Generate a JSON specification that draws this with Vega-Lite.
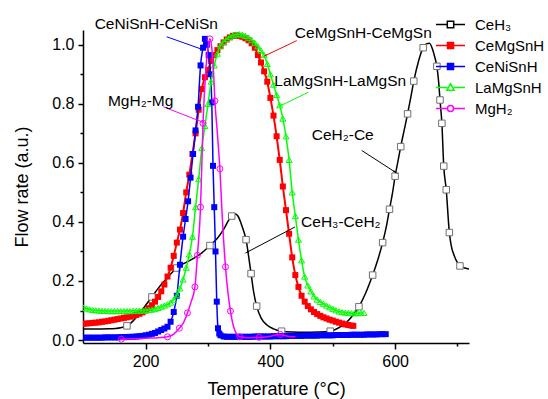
{
  "$schema": "https://vega.github.io/schema/vega-lite/v6.json",
  "width": 386,
  "height": 313,
  "autosize": {"type": "none"},
  "padding": {"left": 83, "top": 30, "right": 79, "bottom": 56},
  "datasets": {
    "curves": [
      {"series":"CeH₃","T":100,"v":0.037},{"series":"CeH₃","T":120,"v":0.037},{"series":"CeH₃","T":140,"v":0.038},{"series":"CeH₃","T":160,"v":0.042},{"series":"CeH₃","T":170,"v":0.048},{"series":"CeH₃","T":180,"v":0.065},{"series":"CeH₃","T":190,"v":0.09},{"series":"CeH₃","T":200,"v":0.118},{"series":"CeH₃","T":210,"v":0.146},{"series":"CeH₃","T":220,"v":0.175},{"series":"CeH₃","T":230,"v":0.2},{"series":"CeH₃","T":240,"v":0.224},{"series":"CeH₃","T":250,"v":0.244},{"series":"CeH₃","T":260,"v":0.258},{"series":"CeH₃","T":271,"v":0.27},{"series":"CeH₃","T":287,"v":0.29},{"series":"CeH₃","T":303,"v":0.32},{"series":"CeH₃","T":315,"v":0.345},{"series":"CeH₃","T":325,"v":0.375},{"series":"CeH₃","T":333,"v":0.405},{"series":"CeH₃","T":338,"v":0.42},{"series":"CeH₃","T":343,"v":0.428},{"series":"CeH₃","T":348,"v":0.42},{"series":"CeH₃","T":353,"v":0.395},{"series":"CeH₃","T":357,"v":0.37},{"series":"CeH₃","T":361,"v":0.34},{"series":"CeH₃","T":365,"v":0.285},{"series":"CeH₃","T":369,"v":0.225},{"series":"CeH₃","T":373,"v":0.165},{"series":"CeH₃","T":378,"v":0.115},{"series":"CeH₃","T":385,"v":0.075},{"series":"CeH₃","T":395,"v":0.05},{"series":"CeH₃","T":405,"v":0.038},{"series":"CeH₃","T":418,"v":0.03},{"series":"CeH₃","T":435,"v":0.027},{"series":"CeH₃","T":455,"v":0.026},{"series":"CeH₃","T":475,"v":0.027},{"series":"CeH₃","T":496,"v":0.03},{"series":"CeH₃","T":510,"v":0.042},{"series":"CeH₃","T":522,"v":0.06},{"series":"CeH₃","T":532,"v":0.083},{"series":"CeH₃","T":542,"v":0.113},{"series":"CeH₃","T":553,"v":0.16},{"series":"CeH₃","T":564,"v":0.22},{"series":"CeH₃","T":572,"v":0.27},{"series":"CeH₃","T":580,"v":0.33},{"series":"CeH₃","T":586,"v":0.385},{"series":"CeH₃","T":591,"v":0.443},{"series":"CeH₃","T":596,"v":0.5},{"series":"CeH₃","T":600,"v":0.555},{"series":"CeH₃","T":605,"v":0.61},{"series":"CeH₃","T":609,"v":0.655},{"series":"CeH₃","T":615,"v":0.715},{"series":"CeH₃","T":620,"v":0.766},{"series":"CeH₃","T":625,"v":0.82},{"series":"CeH₃","T":630,"v":0.877},{"series":"CeH₃","T":637,"v":0.94},{"series":"CeH₃","T":645,"v":0.99},{"series":"CeH₃","T":650,"v":1.003},{"series":"CeH₃","T":655,"v":1.005},{"series":"CeH₃","T":660,"v":0.985},{"series":"CeH₃","T":664,"v":0.955},{"series":"CeH₃","T":667,"v":0.927},{"series":"CeH₃","T":670,"v":0.87},{"series":"CeH₃","T":672,"v":0.813},{"series":"CeH₃","T":675,"v":0.734},{"series":"CeH₃","T":678,"v":0.589},{"series":"CeH₃","T":682,"v":0.509},{"series":"CeH₃","T":687,"v":0.364},{"series":"CeH₃","T":690,"v":0.32},{"series":"CeH₃","T":695,"v":0.285},{"series":"CeH₃","T":700,"v":0.262},{"series":"CeH₃","T":704,"v":0.251},{"series":"CeH₃","T":712,"v":0.244},{"series":"CeH₃","T":720,"v":0.24},

      {"series":"CeMgSnH","T":100,"v":0.055},{"series":"CeMgSnH","T":105,"v":0.056},{"series":"CeMgSnH","T":110,"v":0.057},{"series":"CeMgSnH","T":115,"v":0.058},{"series":"CeMgSnH","T":120,"v":0.059},{"series":"CeMgSnH","T":125,"v":0.06},{"series":"CeMgSnH","T":130,"v":0.062},{"series":"CeMgSnH","T":135,"v":0.063},{"series":"CeMgSnH","T":140,"v":0.065},{"series":"CeMgSnH","T":145,"v":0.067},{"series":"CeMgSnH","T":150,"v":0.069},{"series":"CeMgSnH","T":155,"v":0.071},{"series":"CeMgSnH","T":160,"v":0.073},{"series":"CeMgSnH","T":165,"v":0.075},{"series":"CeMgSnH","T":170,"v":0.077},{"series":"CeMgSnH","T":175,"v":0.079},{"series":"CeMgSnH","T":180,"v":0.082},{"series":"CeMgSnH","T":185,"v":0.085},{"series":"CeMgSnH","T":190,"v":0.089},{"series":"CeMgSnH","T":195,"v":0.094},{"series":"CeMgSnH","T":200,"v":0.1},{"series":"CeMgSnH","T":205,"v":0.108},{"series":"CeMgSnH","T":210,"v":0.118},{"series":"CeMgSnH","T":215,"v":0.13},{"series":"CeMgSnH","T":220,"v":0.146},{"series":"CeMgSnH","T":225,"v":0.165},{"series":"CeMgSnH","T":230,"v":0.188},{"series":"CeMgSnH","T":235,"v":0.215},{"series":"CeMgSnH","T":240,"v":0.245},{"series":"CeMgSnH","T":245,"v":0.285},{"series":"CeMgSnH","T":250,"v":0.33},{"series":"CeMgSnH","T":255,"v":0.374},{"series":"CeMgSnH","T":260,"v":0.43},{"series":"CeMgSnH","T":265,"v":0.5},{"series":"CeMgSnH","T":270,"v":0.56},{"series":"CeMgSnH","T":275,"v":0.63},{"series":"CeMgSnH","T":280,"v":0.7},{"series":"CeMgSnH","T":285,"v":0.78},{"series":"CeMgSnH","T":290,"v":0.85},{"series":"CeMgSnH","T":295,"v":0.89},{"series":"CeMgSnH","T":300,"v":0.915},{"series":"CeMgSnH","T":305,"v":0.945},{"series":"CeMgSnH","T":310,"v":0.965},{"series":"CeMgSnH","T":315,"v":0.982},{"series":"CeMgSnH","T":320,"v":0.995},{"series":"CeMgSnH","T":325,"v":1.008},{"series":"CeMgSnH","T":330,"v":1.018},{"series":"CeMgSnH","T":335,"v":1.025},{"series":"CeMgSnH","T":340,"v":1.03},{"series":"CeMgSnH","T":345,"v":1.032},{"series":"CeMgSnH","T":350,"v":1.03},{"series":"CeMgSnH","T":355,"v":1.027},{"series":"CeMgSnH","T":360,"v":1.022},{"series":"CeMgSnH","T":365,"v":1.015},{"series":"CeMgSnH","T":370,"v":1.005},{"series":"CeMgSnH","T":375,"v":0.99},{"series":"CeMgSnH","T":380,"v":0.965},{"series":"CeMgSnH","T":385,"v":0.94},{"series":"CeMgSnH","T":390,"v":0.91},{"series":"CeMgSnH","T":395,"v":0.875},{"series":"CeMgSnH","T":400,"v":0.82},{"series":"CeMgSnH","T":405,"v":0.76},{"series":"CeMgSnH","T":410,"v":0.69},{"series":"CeMgSnH","T":415,"v":0.61},{"series":"CeMgSnH","T":420,"v":0.52},{"series":"CeMgSnH","T":425,"v":0.44},{"series":"CeMgSnH","T":430,"v":0.36},{"series":"CeMgSnH","T":435,"v":0.28},{"series":"CeMgSnH","T":440,"v":0.22},{"series":"CeMgSnH","T":445,"v":0.18},{"series":"CeMgSnH","T":450,"v":0.15},{"series":"CeMgSnH","T":455,"v":0.13},{"series":"CeMgSnH","T":460,"v":0.115},{"series":"CeMgSnH","T":465,"v":0.104},{"series":"CeMgSnH","T":470,"v":0.095},{"series":"CeMgSnH","T":475,"v":0.088},{"series":"CeMgSnH","T":480,"v":0.082},{"series":"CeMgSnH","T":485,"v":0.077},{"series":"CeMgSnH","T":490,"v":0.073},{"series":"CeMgSnH","T":495,"v":0.069},{"series":"CeMgSnH","T":500,"v":0.066},{"series":"CeMgSnH","T":505,"v":0.062},{"series":"CeMgSnH","T":510,"v":0.059},{"series":"CeMgSnH","T":515,"v":0.056},{"series":"CeMgSnH","T":520,"v":0.053},{"series":"CeMgSnH","T":525,"v":0.051},{"series":"CeMgSnH","T":530,"v":0.049},{"series":"CeMgSnH","T":533,"v":0.048},

      {"series":"CeNiSnH","T":100,"v":0.008},{"series":"CeNiSnH","T":105,"v":0.008},{"series":"CeNiSnH","T":110,"v":0.008},{"series":"CeNiSnH","T":115,"v":0.008},{"series":"CeNiSnH","T":120,"v":0.008},{"series":"CeNiSnH","T":125,"v":0.008},{"series":"CeNiSnH","T":130,"v":0.008},{"series":"CeNiSnH","T":135,"v":0.009},{"series":"CeNiSnH","T":140,"v":0.009},{"series":"CeNiSnH","T":145,"v":0.009},{"series":"CeNiSnH","T":150,"v":0.009},{"series":"CeNiSnH","T":155,"v":0.009},{"series":"CeNiSnH","T":160,"v":0.01},{"series":"CeNiSnH","T":165,"v":0.01},{"series":"CeNiSnH","T":170,"v":0.01},{"series":"CeNiSnH","T":175,"v":0.011},{"series":"CeNiSnH","T":180,"v":0.011},{"series":"CeNiSnH","T":185,"v":0.012},{"series":"CeNiSnH","T":190,"v":0.013},{"series":"CeNiSnH","T":195,"v":0.014},{"series":"CeNiSnH","T":200,"v":0.016},{"series":"CeNiSnH","T":205,"v":0.018},{"series":"CeNiSnH","T":210,"v":0.021},{"series":"CeNiSnH","T":215,"v":0.024},{"series":"CeNiSnH","T":220,"v":0.029},{"series":"CeNiSnH","T":225,"v":0.034},{"series":"CeNiSnH","T":230,"v":0.039},{"series":"CeNiSnH","T":235,"v":0.045},{"series":"CeNiSnH","T":240,"v":0.062},{"series":"CeNiSnH","T":245,"v":0.095},{"series":"CeNiSnH","T":250,"v":0.15},{"series":"CeNiSnH","T":255,"v":0.255},{"series":"CeNiSnH","T":260,"v":0.35},{"series":"CeNiSnH","T":264,"v":0.41},{"series":"CeNiSnH","T":268,"v":0.47},{"series":"CeNiSnH","T":272,"v":0.55},{"series":"CeNiSnH","T":276,"v":0.63},{"series":"CeNiSnH","T":280,"v":0.71},{"series":"CeNiSnH","T":284,"v":0.79},{"series":"CeNiSnH","T":288,"v":0.93},{"series":"CeNiSnH","T":292,"v":0.99},{"series":"CeNiSnH","T":295,"v":1.02},{"series":"CeNiSnH","T":298,"v":1.0},{"series":"CeNiSnH","T":301,"v":0.965},{"series":"CeNiSnH","T":304,"v":0.9},{"series":"CeNiSnH","T":306,"v":0.805},{"series":"CeNiSnH","T":308,"v":0.59},{"series":"CeNiSnH","T":310,"v":0.45},{"series":"CeNiSnH","T":312,"v":0.3},{"series":"CeNiSnH","T":314,"v":0.13},{"series":"CeNiSnH","T":316,"v":0.04},{"series":"CeNiSnH","T":318,"v":0.022},{"series":"CeNiSnH","T":320,"v":0.016},{"series":"CeNiSnH","T":325,"v":0.012},{"series":"CeNiSnH","T":330,"v":0.011},{"series":"CeNiSnH","T":335,"v":0.011},{"series":"CeNiSnH","T":340,"v":0.011},{"series":"CeNiSnH","T":345,"v":0.011},{"series":"CeNiSnH","T":350,"v":0.011},{"series":"CeNiSnH","T":355,"v":0.011},{"series":"CeNiSnH","T":360,"v":0.011},{"series":"CeNiSnH","T":365,"v":0.011},{"series":"CeNiSnH","T":370,"v":0.011},{"series":"CeNiSnH","T":375,"v":0.012},{"series":"CeNiSnH","T":380,"v":0.012},{"series":"CeNiSnH","T":385,"v":0.012},{"series":"CeNiSnH","T":390,"v":0.012},{"series":"CeNiSnH","T":395,"v":0.012},{"series":"CeNiSnH","T":400,"v":0.012},{"series":"CeNiSnH","T":405,"v":0.013},{"series":"CeNiSnH","T":410,"v":0.013},{"series":"CeNiSnH","T":415,"v":0.013},{"series":"CeNiSnH","T":420,"v":0.013},{"series":"CeNiSnH","T":425,"v":0.013},{"series":"CeNiSnH","T":430,"v":0.014},{"series":"CeNiSnH","T":435,"v":0.014},{"series":"CeNiSnH","T":440,"v":0.014},{"series":"CeNiSnH","T":445,"v":0.014},{"series":"CeNiSnH","T":450,"v":0.014},{"series":"CeNiSnH","T":455,"v":0.015},{"series":"CeNiSnH","T":460,"v":0.015},{"series":"CeNiSnH","T":465,"v":0.015},{"series":"CeNiSnH","T":470,"v":0.015},{"series":"CeNiSnH","T":475,"v":0.015},{"series":"CeNiSnH","T":480,"v":0.016},{"series":"CeNiSnH","T":485,"v":0.016},{"series":"CeNiSnH","T":490,"v":0.016},{"series":"CeNiSnH","T":495,"v":0.016},{"series":"CeNiSnH","T":500,"v":0.016},{"series":"CeNiSnH","T":505,"v":0.017},{"series":"CeNiSnH","T":510,"v":0.017},{"series":"CeNiSnH","T":515,"v":0.017},{"series":"CeNiSnH","T":520,"v":0.017},{"series":"CeNiSnH","T":525,"v":0.017},{"series":"CeNiSnH","T":530,"v":0.018},{"series":"CeNiSnH","T":535,"v":0.018},{"series":"CeNiSnH","T":540,"v":0.018},{"series":"CeNiSnH","T":545,"v":0.018},{"series":"CeNiSnH","T":550,"v":0.018},{"series":"CeNiSnH","T":555,"v":0.019},{"series":"CeNiSnH","T":560,"v":0.019},{"series":"CeNiSnH","T":565,"v":0.019},{"series":"CeNiSnH","T":570,"v":0.019},{"series":"CeNiSnH","T":575,"v":0.02},{"series":"CeNiSnH","T":580,"v":0.02},{"series":"CeNiSnH","T":585,"v":0.02},

      {"series":"LaMgSnH","T":100,"v":0.11},{"series":"LaMgSnH","T":105,"v":0.107},{"series":"LaMgSnH","T":110,"v":0.104},{"series":"LaMgSnH","T":115,"v":0.102},{"series":"LaMgSnH","T":120,"v":0.101},{"series":"LaMgSnH","T":125,"v":0.1},{"series":"LaMgSnH","T":130,"v":0.099},{"series":"LaMgSnH","T":135,"v":0.099},{"series":"LaMgSnH","T":140,"v":0.098},{"series":"LaMgSnH","T":145,"v":0.098},{"series":"LaMgSnH","T":150,"v":0.098},{"series":"LaMgSnH","T":155,"v":0.098},{"series":"LaMgSnH","T":160,"v":0.098},{"series":"LaMgSnH","T":165,"v":0.098},{"series":"LaMgSnH","T":170,"v":0.098},{"series":"LaMgSnH","T":175,"v":0.098},{"series":"LaMgSnH","T":180,"v":0.099},{"series":"LaMgSnH","T":185,"v":0.099},{"series":"LaMgSnH","T":190,"v":0.1},{"series":"LaMgSnH","T":195,"v":0.1},{"series":"LaMgSnH","T":200,"v":0.101},{"series":"LaMgSnH","T":205,"v":0.102},{"series":"LaMgSnH","T":210,"v":0.103},{"series":"LaMgSnH","T":215,"v":0.106},{"series":"LaMgSnH","T":220,"v":0.109},{"series":"LaMgSnH","T":225,"v":0.113},{"series":"LaMgSnH","T":230,"v":0.117},{"series":"LaMgSnH","T":235,"v":0.121},{"series":"LaMgSnH","T":240,"v":0.127},{"series":"LaMgSnH","T":245,"v":0.137},{"series":"LaMgSnH","T":250,"v":0.152},{"series":"LaMgSnH","T":255,"v":0.175},{"series":"LaMgSnH","T":260,"v":0.205},{"series":"LaMgSnH","T":265,"v":0.245},{"series":"LaMgSnH","T":270,"v":0.29},{"series":"LaMgSnH","T":275,"v":0.35},{"series":"LaMgSnH","T":280,"v":0.45},{"series":"LaMgSnH","T":285,"v":0.545},{"series":"LaMgSnH","T":290,"v":0.65},{"series":"LaMgSnH","T":295,"v":0.725},{"series":"LaMgSnH","T":300,"v":0.8},{"series":"LaMgSnH","T":305,"v":0.875},{"series":"LaMgSnH","T":310,"v":0.93},{"series":"LaMgSnH","T":315,"v":0.97},{"series":"LaMgSnH","T":320,"v":0.997},{"series":"LaMgSnH","T":325,"v":1.01},{"series":"LaMgSnH","T":330,"v":1.02},{"series":"LaMgSnH","T":335,"v":1.027},{"series":"LaMgSnH","T":340,"v":1.032},{"series":"LaMgSnH","T":345,"v":1.035},{"series":"LaMgSnH","T":350,"v":1.036},{"series":"LaMgSnH","T":355,"v":1.034},{"series":"LaMgSnH","T":360,"v":1.03},{"series":"LaMgSnH","T":365,"v":1.024},{"series":"LaMgSnH","T":370,"v":1.016},{"series":"LaMgSnH","T":375,"v":1.006},{"series":"LaMgSnH","T":380,"v":0.995},{"series":"LaMgSnH","T":385,"v":0.98},{"series":"LaMgSnH","T":390,"v":0.965},{"series":"LaMgSnH","T":395,"v":0.935},{"series":"LaMgSnH","T":400,"v":0.9},{"series":"LaMgSnH","T":405,"v":0.865},{"series":"LaMgSnH","T":410,"v":0.83},{"series":"LaMgSnH","T":415,"v":0.795},{"series":"LaMgSnH","T":420,"v":0.75},{"series":"LaMgSnH","T":425,"v":0.69},{"series":"LaMgSnH","T":430,"v":0.61},{"series":"LaMgSnH","T":435,"v":0.5},{"series":"LaMgSnH","T":440,"v":0.42},{"series":"LaMgSnH","T":445,"v":0.34},{"series":"LaMgSnH","T":450,"v":0.27},{"series":"LaMgSnH","T":455,"v":0.215},{"series":"LaMgSnH","T":460,"v":0.185},{"series":"LaMgSnH","T":465,"v":0.165},{"series":"LaMgSnH","T":470,"v":0.148},{"series":"LaMgSnH","T":475,"v":0.137},{"series":"LaMgSnH","T":480,"v":0.129},{"series":"LaMgSnH","T":485,"v":0.123},{"series":"LaMgSnH","T":490,"v":0.117},{"series":"LaMgSnH","T":495,"v":0.111},{"series":"LaMgSnH","T":500,"v":0.106},{"series":"LaMgSnH","T":505,"v":0.101},{"series":"LaMgSnH","T":510,"v":0.097},{"series":"LaMgSnH","T":515,"v":0.095},{"series":"LaMgSnH","T":520,"v":0.093},{"series":"LaMgSnH","T":525,"v":0.092},{"series":"LaMgSnH","T":530,"v":0.091},{"series":"LaMgSnH","T":535,"v":0.091},{"series":"LaMgSnH","T":540,"v":0.091},{"series":"LaMgSnH","T":545,"v":0.092},{"series":"LaMgSnH","T":550,"v":0.092},

      {"series":"MgH₂","T":159,"v":0.003},{"series":"MgH₂","T":180,"v":0.004},{"series":"MgH₂","T":200,"v":0.006},{"series":"MgH₂","T":220,"v":0.008},{"series":"MgH₂","T":235,"v":0.011},{"series":"MgH₂","T":245,"v":0.02},{"series":"MgH₂","T":254,"v":0.04},{"series":"MgH₂","T":261,"v":0.06},{"series":"MgH₂","T":267,"v":0.092},{"series":"MgH₂","T":273,"v":0.13},{"series":"MgH₂","T":279,"v":0.18},{"series":"MgH₂","T":283,"v":0.287},{"series":"MgH₂","T":288,"v":0.45},{"series":"MgH₂","T":292,"v":0.734},{"series":"MgH₂","T":296,"v":0.9},{"series":"MgH₂","T":300,"v":0.99},{"series":"MgH₂","T":303,"v":1.02},{"series":"MgH₂","T":306,"v":0.99},{"series":"MgH₂","T":309,"v":0.9},{"series":"MgH₂","T":311,"v":0.81},{"series":"MgH₂","T":315,"v":0.7},{"series":"MgH₂","T":319,"v":0.58},{"series":"MgH₂","T":323,"v":0.41},{"series":"MgH₂","T":328,"v":0.248},{"series":"MgH₂","T":332,"v":0.16},{"series":"MgH₂","T":336,"v":0.098},{"series":"MgH₂","T":341,"v":0.045},{"series":"MgH₂","T":346,"v":0.02},{"series":"MgH₂","T":351,"v":0.011},{"series":"MgH₂","T":365,"v":0.008},{"series":"MgH₂","T":382,"v":0.009},{"series":"MgH₂","T":400,"v":0.013},{"series":"MgH₂","T":410,"v":0.018},{"series":"MgH₂","T":416,"v":0.019},{"series":"MgH₂","T":422,"v":0.016},{"series":"MgH₂","T":430,"v":0.012},{"series":"MgH₂","T":440,"v":0.011}
    ],
    "markers": [
      {"series":"CeH₃","T":170,"v":0.048},{"series":"CeH₃","T":210,"v":0.146},{"series":"CeH₃","T":250,"v":0.244},{"series":"CeH₃","T":303,"v":0.32},{"series":"CeH₃","T":338,"v":0.42},{"series":"CeH₃","T":361,"v":0.34},{"series":"CeH₃","T":369,"v":0.225},{"series":"CeH₃","T":378,"v":0.115},{"series":"CeH₃","T":418,"v":0.03},{"series":"CeH₃","T":496,"v":0.03},{"series":"CeH₃","T":542,"v":0.113},{"series":"CeH₃","T":564,"v":0.22},{"series":"CeH₃","T":580,"v":0.33},{"series":"CeH₃","T":591,"v":0.443},{"series":"CeH₃","T":600,"v":0.555},{"series":"CeH₃","T":609,"v":0.655},{"series":"CeH₃","T":620,"v":0.766},{"series":"CeH₃","T":630,"v":0.877},{"series":"CeH₃","T":645,"v":0.99},{"series":"CeH₃","T":667,"v":0.927},{"series":"CeH₃","T":672,"v":0.813},{"series":"CeH₃","T":675,"v":0.734},{"series":"CeH₃","T":678,"v":0.589},{"series":"CeH₃","T":682,"v":0.509},{"series":"CeH₃","T":687,"v":0.364},{"series":"CeH₃","T":704,"v":0.251},
      {"series":"MgH₂","T":161,"v":0.003},{"series":"MgH₂","T":235,"v":0.011},{"series":"MgH₂","T":254,"v":0.04},{"series":"MgH₂","T":267,"v":0.092},{"series":"MgH₂","T":279,"v":0.18},{"series":"MgH₂","T":283,"v":0.287},{"series":"MgH₂","T":288,"v":0.45},{"series":"MgH₂","T":292,"v":0.734},{"series":"MgH₂","T":303,"v":1.02},{"series":"MgH₂","T":311,"v":0.81},{"series":"MgH₂","T":319,"v":0.58},{"series":"MgH₂","T":328,"v":0.248},{"series":"MgH₂","T":336,"v":0.098},{"series":"MgH₂","T":351,"v":0.011},{"series":"MgH₂","T":382,"v":0.009},{"series":"MgH₂","T":416,"v":0.019}
    ],
    "notes": [
      {"label":"CeNiSnH-CeNiSn","tx":217,"ty":1.07,"T":233.7,"v":1.027,"T2":289.9,"v2":0.985},
      {"label":"MgH₂-Mg","tx":192,"ty":0.81,"T":228.3,"v":0.79,"T2":292.5,"v2":0.737},
      {"label":"CeMgSnH-CeMgSn","tx":549,"ty":1.04,"T":442.3,"v":1.014,"T2":391.4,"v2":0.963},
      {"label":"LaMgSnH-LaMgSn","tx":512,"ty":0.878,"T":460.9,"v":0.839,"T2":416.6,"v2":0.794},
      {"label":"CeH₂-Ce","tx":516,"ty":0.693,"T":546.5,"v":0.642,"T2":599.9,"v2":0.569},
      {"label":"CeH₃-CeH₂","tx":513,"ty":0.4,"T":439.5,"v":0.383,"T2":363.0,"v2":0.298}
    ]
  },
  "layer": [
    {
      "layer": [
        {
          "data": {"name": "curves"},
          "transform": [{"filter": "datum.series === 'CeH₃'"}],
          "mark": {"type": "line", "color": "black", "strokeWidth": 1.5, "interpolate": "monotone", "clip": true},
          "encoding": {
            "x": {"field": "T", "type": "quantitative", "scale": {"domain": [99.5, 718.5], "nice": false, "zero": false},
                  "axis": {"values": [200, 400, 600], "tickSize": 6, "labelPadding": 4, "title": "Temperature (°C)", "titlePadding": 11}},
            "y": {"field": "v", "type": "quantitative", "scale": {"domain": [-0.01, 1.05], "nice": false, "zero": false},
                  "axis": {"values": [0, 0.2, 0.4, 0.6, 0.8, 1.0], "format": ".1f", "tickSize": 5, "labelPadding": 4, "title": "Flow rate (a.u.)", "titlePadding": 20}}
          }
        },
        {
          "data": {"name": "markers"},
          "transform": [{"filter": "datum.series === 'CeH₃'"}],
          "mark": {"type": "point", "shape": "square", "size": 42, "filled": true, "fill": "white", "stroke": "#707070", "strokeWidth": 1, "opacity": 1},
          "encoding": {"x": {"field": "T", "type": "quantitative"}, "y": {"field": "v", "type": "quantitative"}}
        },
        {
          "data": {"name": "curves"},
          "transform": [{"filter": "datum.series === 'CeMgSnH'"}],
          "mark": {"type": "line", "color": "#ff0000", "strokeWidth": 2, "interpolate": "monotone", "clip": true,
                   "point": {"shape": "square", "size": 36, "filled": true, "color": "#ff0000", "opacity": 1}},
          "encoding": {"x": {"field": "T", "type": "quantitative"}, "y": {"field": "v", "type": "quantitative"}}
        },
        {
          "data": {"name": "curves"},
          "transform": [{"filter": "datum.series === 'CeNiSnH'"}],
          "mark": {"type": "line", "color": "#0000ff", "strokeWidth": 1.5, "interpolate": "monotone", "clip": true,
                   "point": {"shape": "square", "size": 36, "filled": true, "color": "#0000ff", "opacity": 1}},
          "encoding": {"x": {"field": "T", "type": "quantitative"}, "y": {"field": "v", "type": "quantitative"}}
        },
        {
          "data": {"name": "curves"},
          "transform": [{"filter": "datum.series === 'LaMgSnH'"}],
          "mark": {"type": "line", "color": "#00ff00", "strokeWidth": 1.5, "interpolate": "monotone", "clip": true,
                   "point": {"shape": "triangle-up", "size": 36, "filled": false, "color": "#00ff00", "strokeWidth": 1, "opacity": 1}},
          "encoding": {"x": {"field": "T", "type": "quantitative"}, "y": {"field": "v", "type": "quantitative"}}
        },
        {
          "data": {"name": "curves"},
          "transform": [{"filter": "datum.series === 'MgH₂'"}],
          "mark": {"type": "line", "color": "#ff00ff", "strokeWidth": 1.5, "interpolate": "monotone", "clip": true},
          "encoding": {"x": {"field": "T", "type": "quantitative"}, "y": {"field": "v", "type": "quantitative"}}
        },
        {
          "data": {"name": "markers"},
          "transform": [{"filter": "datum.series === 'MgH₂'"}],
          "mark": {"type": "point", "shape": "circle", "size": 36, "filled": false, "color": "#ff00ff", "strokeWidth": 1, "opacity": 1},
          "encoding": {"x": {"field": "T", "type": "quantitative"}, "y": {"field": "v", "type": "quantitative"}}
        },
        {
          "data": {"name": "notes"},
          "mark": {"type": "rule", "strokeWidth": 1},
          "encoding": {
            "x": {"field": "T", "type": "quantitative"}, "y": {"field": "v", "type": "quantitative"},
            "x2": {"field": "T2"}, "y2": {"field": "v2"},
            "color": {"field": "label", "type": "nominal", "legend": null,
                      "scale": {"domain": ["CeNiSnH-CeNiSn", "MgH₂-Mg", "CeMgSnH-CeMgSn", "LaMgSnH-LaMgSn", "CeH₂-Ce", "CeH₃-CeH₂"],
                                "range": ["#0000ff", "#ff00ff", "#ff0000", "#00ff00", "#000000", "#000000"]}}
          }
        },
        {
          "data": {"name": "notes"},
          "mark": {"type": "point", "shape": "wedge", "size": 40, "filled": true, "opacity": 1,
                   "angle": {"expr": "atan2((datum.T2 - datum.T) * 0.6236, (datum.v2 - datum.v) * 295.3) * 180 / PI"}},
          "encoding": {
            "x": {"field": "T2", "type": "quantitative"}, "y": {"field": "v2", "type": "quantitative"},
            "color": {"field": "label", "type": "nominal", "legend": null}
          }
        },
        {
          "data": {"name": "notes"},
          "mark": {"type": "text", "fontSize": 15.5, "font": "Liberation Sans", "align": "center", "baseline": "middle", "color": "black"},
          "encoding": {
            "x": {"field": "tx", "type": "quantitative"}, "y": {"field": "ty", "type": "quantitative"},
            "text": {"field": "label"}
          }
        },
        {
          "data": {"name": "curves"},
          "transform": [{"filter": "false"}],
          "mark": {"type": "point", "size": 16, "opacity": 1},
          "encoding": {
            "shape": {"field": "series", "type": "nominal",
                      "scale": {"domain": ["CeH₃", "CeMgSnH", "CeNiSnH", "LaMgSnH", "MgH₂"],
                                "range": ["M-7.25,0H-1.6M1.6,0H7.25M-1.6,-1.6H1.6V1.6H-1.6Z",
                                          "M-7.25,0H-1.5M1.5,0H7.25M-1.5,-1.5H1.5V1.5H-1.5Z",
                                          "M-7.25,0H-1.5M1.5,0H7.25M-1.5,-1.5H1.5V1.5H-1.5Z",
                                          "M-7.25,0H-1.6M1.6,0H7.25M0,-1.9L1.8,1.4H-1.8Z",
                                          "M-7.25,0H-1.5M1.5,0H7.25M1.5,0A1.5,1.5 0 1,1 -1.5,0A1.5,1.5 0 1,1 1.5,0Z"]},
                      "legend": {"orient": "none", "legendX": 360, "legendY": -13, "title": null, "padding": 0, "labelFontSize": 15, "labelFont": "Liberation Sans", "labelColor": "black", "labelOffset": 17, "symbolSize": 16, "symbolStrokeWidth": 1.5, "rowPadding": 5}},
            "stroke": {"field": "series", "type": "nominal",
                       "scale": {"domain": ["CeH₃", "CeMgSnH", "CeNiSnH", "LaMgSnH", "MgH₂"], "range": ["#000000", "#ff0000", "#0000ff", "#00ff00", "#ff00ff"]},
                       "legend": {"orient": "none", "legendX": 360, "legendY": -13, "title": null, "padding": 0, "labelFontSize": 15, "labelFont": "Liberation Sans", "labelColor": "black", "labelOffset": 17, "symbolSize": 16, "symbolStrokeWidth": 1.5, "rowPadding": 5}},
            "fill": {"field": "series", "type": "nominal",
                     "scale": {"domain": ["CeH₃", "CeMgSnH", "CeNiSnH", "LaMgSnH", "MgH₂"], "range": ["#ffffff", "#ff0000", "#0000ff", "#ffffff", "#ffffff"]},
                     "legend": {"orient": "none", "legendX": 360, "legendY": -13, "title": null, "padding": 0, "labelFontSize": 15, "labelFont": "Liberation Sans", "labelColor": "black", "labelOffset": 17, "symbolSize": 16, "symbolStrokeWidth": 1.5, "rowPadding": 5}}
          }
        }
      ]
    },
    {
      "data": {"name": "markers"},
      "transform": [{"filter": "false"}],
      "mark": {"type": "point"},
      "encoding": {
        "x": {"field": "T", "type": "quantitative", "scale": {"domain": [99.5, 718.5], "nice": false, "zero": false},
              "axis": {"orient": "bottom", "values": [300, 500, 700], "labels": false, "domain": false, "tickSize": 3, "title": null, "grid": false}},
        "y": {"field": "v", "type": "quantitative", "scale": {"domain": [-0.01, 1.05], "nice": false, "zero": false},
              "axis": {"orient": "left", "values": [0.1, 0.3, 0.5, 0.7, 0.9], "labels": false, "domain": false, "tickSize": 3, "title": null, "grid": false}}
      }
    }
  ],
  "resolve": {"axis": {"x": "independent", "y": "independent"}},
  "config": {
    "view": {"stroke": null},
    "font": "Liberation Sans",
    "axis": {
      "domainColor": "black", "domainWidth": 1.5, "tickColor": "black", "tickWidth": 1.5,
      "labelColor": "black", "titleColor": "black", "labelFontSize": 16, "titleFontSize": 18,
      "titleFontWeight": "normal", "grid": false, "labelFont": "Liberation Sans", "titleFont": "Liberation Sans"
    }
  }
}
